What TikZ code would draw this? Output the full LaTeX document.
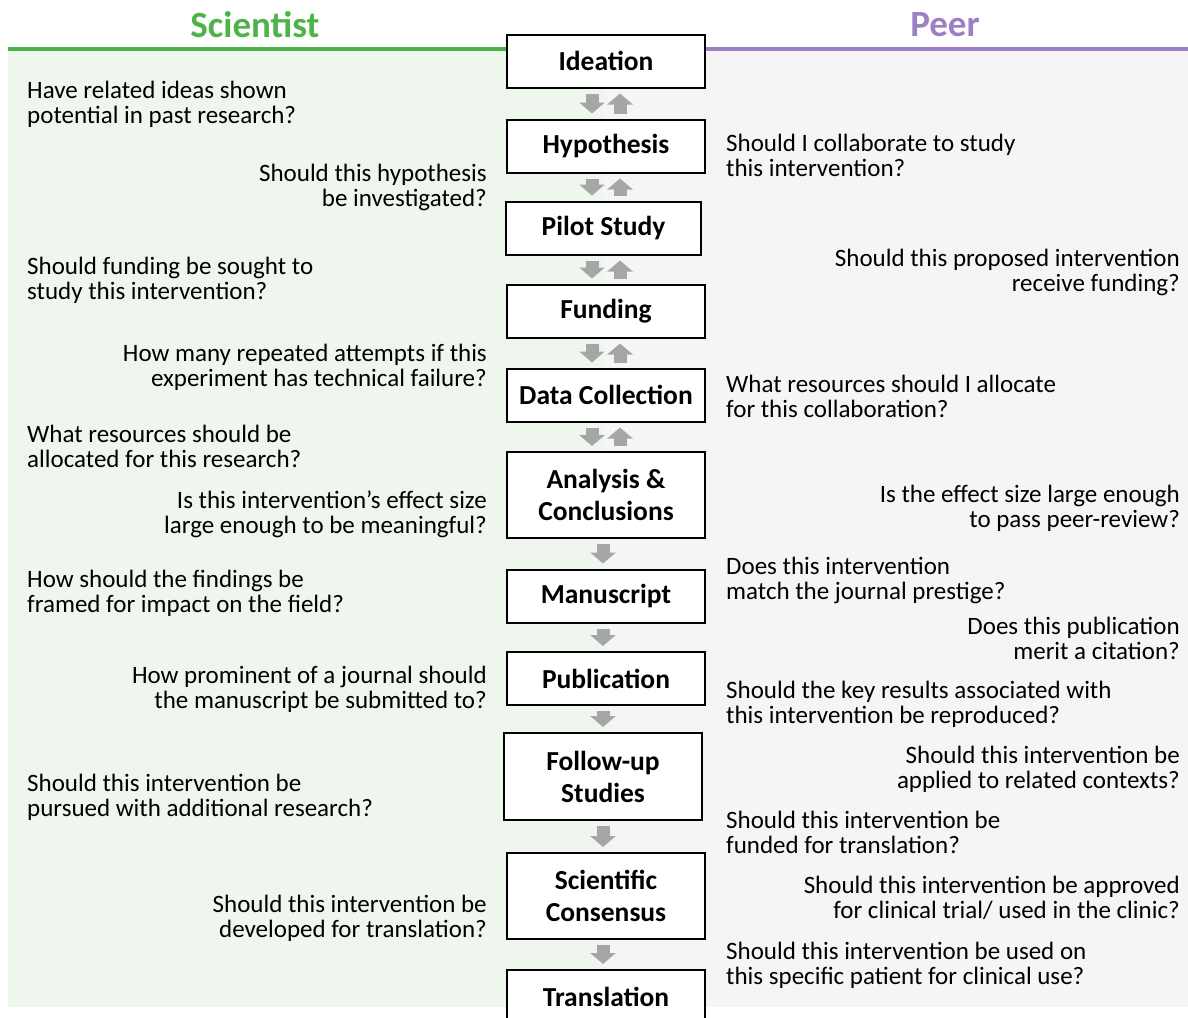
\documentclass[tikz,border=0pt]{standalone}
\usepackage{fontspec}
\setmainfont{Carlito}
\usetikzlibrary{arrows.meta,positioning}
\definecolor{scigreen}{RGB}{77,178,72}
\definecolor{peerpurple}{RGB}{155,128,196}
\definecolor{scibg}{RGB}{238,246,238}
\definecolor{peerbg}{RGB}{245,245,248}
\definecolor{arrowgray}{RGB}{166,166,166}
\tikzset{
  stage/.style={draw, line width=2pt, fill=white, minimum width=198pt, minimum height=53pt,
    inner sep=0pt, align=center, font=\fontsize{27.5}{32}\selectfont\bfseries},
  question/.style={inner sep=0pt, yshift=-2pt, font=\fontsize{25}{25}\selectfont},
  qleft/.style={question, anchor=west, align=left},
  qright/.style={question, anchor=east, align=right},
  heading/.style={font=\fontsize{37}{40}\selectfont\bfseries},
  flow/.style={draw=arrowgray, line width=13pt, -{Triangle[width=25pt,length=11pt]},
    shorten <=5pt, shorten >=5pt}
}

\begin{document}
\begin{tikzpicture}[x=1pt,y=-1pt]
  \useasboundingbox (0,0) rectangle (1188,1017);
  \fill[scibg]  (8,51) rectangle (604,1007);
  \fill[peerbg] (604,51) rectangle (1188,1007);
  \draw[scigreen, line width=3.5pt]   (8,49) -- (507,49);
  \draw[peerpurple, line width=3.5pt] (705,49) -- (1188,49);
  \node[heading, text=scigreen]   (scihead)  at (255,25) {Scientist};
  \node[heading, text=peerpurple] (peerhead) at (945,25) {Peer};

  \node[stage] (ideation)    at (606,61)    {Ideation};
  \node[stage] (hypothesis)  at (606,146)   {Hypothesis};
  \node[stage, minimum width=195pt] (pilot) at (603.5,228) {Pilot Study};
  \node[stage] (funding)     at (606,311)   {Funding};
  \node[stage] (datacoll)    at (606,395)   {Data Collection};
  \node[stage, minimum height=86pt] (analysis) at (606,495) {Analysis \&\\ Conclusions};
  \node[stage] (manuscript)  at (606,596)   {Manuscript};
  \node[stage] (publication) at (606,678.5) {Publication};
  \node[stage, minimum height=87pt] (followup) at (603,776.5) {Follow-up\\ Studies};
  \node[stage, minimum height=86pt] (consensus) at (606,896) {Scientific\\ Consensus};
  \node[stage, minimum height=54pt] (translation) at (606,997) {Translation};

  \coordinate (down) at (592,0);
  \coordinate (up)   at (620,0);
  \coordinate (mid)  at (603,0);
  \foreach \a/\b in {ideation/hypothesis, hypothesis/pilot, pilot/funding, funding/datacoll, datacoll/analysis} {
    \draw[flow] (down |- \a.south) -- (down |- \b.north);
    \draw[flow] (up |- \b.north) -- (up |- \a.south);
  }
  \foreach \a/\b in {analysis/manuscript, manuscript/publication, publication/followup, followup/consensus, consensus/translation}
    \draw[flow] (mid |- \a.south) -- (mid |- \b.north);

  % scientist side
  \node[qleft]  (sciPast)      at (27,102.5)  {Have related ideas shown\\ potential in past research?};
  \node[qright] (sciHypo)      at (487,185.5) {Should this hypothesis\\ be investigated?};
  \node[qleft]  (sciFund)      at (27,278.5)  {Should funding be sought to\\ study this intervention?};
  \node[qright] (sciRepeat)    at (487,365.5) {How many repeated attempts if this\\ experiment has technical failure?};
  \node[qleft]  (sciResources) at (27,444.5)  {What resources should be\\ allocated for this research?};
  \node[qright] (sciEffect)    at (487,512.5) {Is this intervention’s effect size\\ large enough to be meaningful?};
  \node[qleft]  (sciFraming)   at (27,591.5)  {How should the findings be\\ framed for impact on the field?};
  \node[qright] (sciJournal)   at (487,687.5) {How prominent of a journal should\\ the manuscript be submitted to?};
  \node[qleft]  (sciPursue)    at (27,795.5)  {Should this intervention be\\ pursued with additional research?};
  \node[qright] (sciDevelop)   at (487,916.5) {Should this intervention be\\ developed for translation?};

  % peer side
  \node[qleft]  (peerCollab)    at (726,153.5)  {Should I collaborate to study\\ this intervention?};
  \node[qright] (peerFund)      at (1180,270.5) {Should this proposed intervention\\ receive funding?};
  \node[qleft]  (peerAllocate)  at (726,394.5)  {What resources should I allocate\\ for this collaboration?};
  \node[qright] (peerReview)    at (1180,506.5) {Is the effect size large enough\\ to pass peer-review?};
  \node[qleft]  (peerPrestige)  at (726,578.5)  {Does this intervention\\ match the journal prestige?};
  \node[qright] (peerCite)      at (1180,636.5) {Does this publication\\ merit a citation?};
  \node[qleft]  (peerReproduce) at (726,702)    {Should the key results associated with\\ this intervention be reproduced?};
  \node[qright] (peerApply)     at (1180,767.5) {Should this intervention be\\ applied to related contexts?};
  \node[qleft]  (peerTranslate) at (726,830.5)  {Should this intervention be\\ funded for translation?};
  \node[qright] (peerClinic)    at (1180,895.5) {Should this intervention be approved\\ for clinical trial/ used in the clinic?};
  \node[qleft]  (peerPatient)   at (726,963.5)  {Should this intervention be used on\\ this specific patient for clinical use?};
\end{tikzpicture}
\end{document}
